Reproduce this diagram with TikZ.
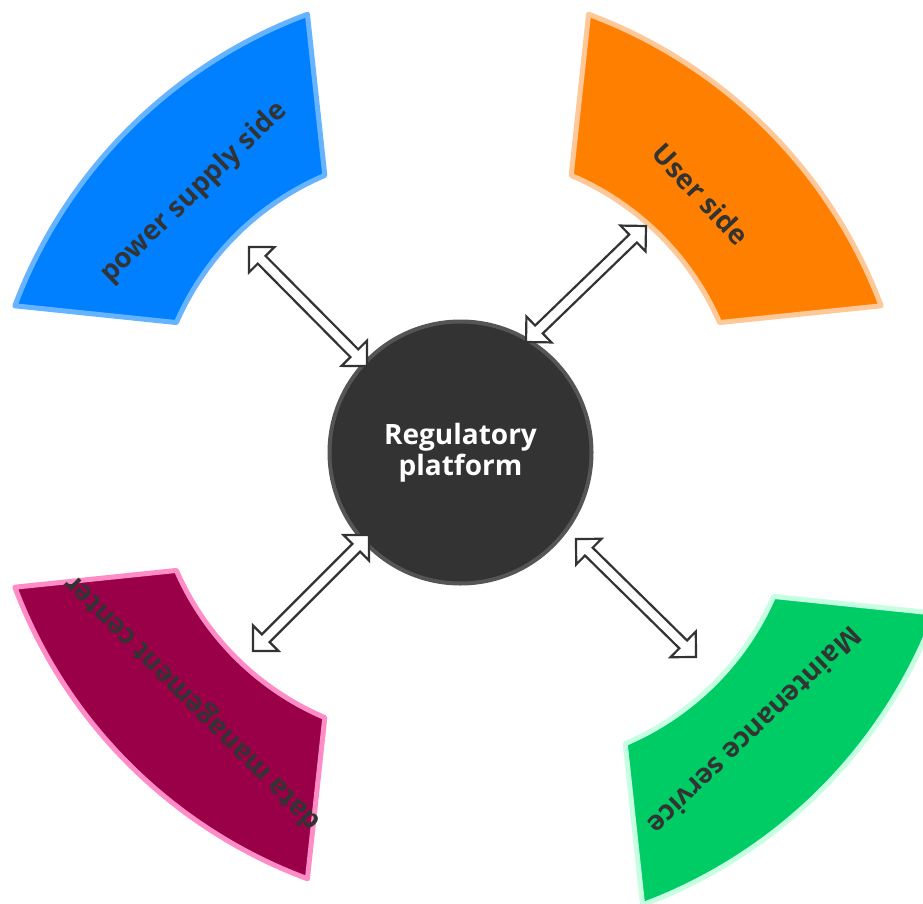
\documentclass[tikz,border=0pt]{standalone}
\usepackage{fontspec}
\setmainfont{Open Sans}
\usetikzlibrary{calc}
\definecolor{bluefill}{HTML}{0080FF}
\definecolor{blueedge}{HTML}{66B3FF}
\definecolor{orangefill}{HTML}{FF8000}
\definecolor{orangeedge}{HTML}{FFC899}
\definecolor{magfill}{HTML}{990047}
\definecolor{magedge}{HTML}{FF8CC6}
\definecolor{greenfill}{HTML}{00CC66}
\definecolor{greenedge}{HTML}{C6FFE2}
\definecolor{darktext}{HTML}{333333}
\definecolor{circfill}{HTML}{333333}
\definecolor{circedge}{HTML}{555555}
\newcommand\twoway[2]{%
  \filldraw[dblarrow] (#1) -- ($(#1)!25.46pt!45:(#2)$) -- ($(#1)!18.82pt!17:(#2)$)
    -- ($(#2)!18.82pt!-17:(#1)$) -- ($(#2)!25.46pt!-45:(#1)$) -- (#2)
    -- ($(#2)!25.46pt!45:(#1)$) -- ($(#2)!18.82pt!17:(#1)$)
    -- ($(#1)!18.82pt!-17:(#2)$) -- ($(#1)!25.46pt!-45:(#2)$) -- cycle;}
\begin{document}
\begin{tikzpicture}[x=1pt,y=-1pt,
  sector/.style={line width=5pt, line join=round},
  seclabel/.style={font=\fontsize{27.5}{31}\selectfont\bfseries, text=darktext, inner sep=0pt},
  hub/.style={circle, fill=circfill, draw=circedge, line width=4pt, minimum size=262pt, inner sep=0pt, text=white, align=center, font=\fontsize{28}{31}\selectfont\bfseries},
  dblarrow/.style={draw=darktext, fill=white, line width=2.2pt, line join=miter}
]
\useasboundingbox (0,0) rectangle (923,904);
\clip (0,0) rectangle (923,904);
\fill[white] (0,0) rectangle (923,904);

% sectors
\filldraw[sector, fill=bluefill, draw=blueedge]
  ($(481,481)+(-110.4:498)$) arc[start angle=-110.4, end angle=-159.4, radius=498]
  -- ($(435,435)+(-156.5:282)$) arc[start angle=-156.5, end angle=-113, radius=282] -- cycle;
\filldraw[sector, fill=orangefill, draw=orangeedge]
  ($(415,481)+(-69.6:498)$) arc[start angle=-69.6, end angle=-20.6, radius=498]
  -- ($(461,435)+(-23.5:282)$) arc[start angle=-23.5, end angle=-67, radius=282] -- cycle;
\filldraw[sector, fill=magfill, draw=magedge]
  ($(481,412)+(110.4:498)$) arc[start angle=110.4, end angle=159.4, radius=498]
  -- ($(435,458)+(156.5:282)$) arc[start angle=156.5, end angle=113, radius=282] -- cycle;
\filldraw[sector, fill=greenfill, draw=greenedge]
  ($(469,438)+(69.6:498)$) arc[start angle=69.6, end angle=20.6, radius=498]
  -- ($(515,484)+(23.5:282)$) arc[start angle=23.5, end angle=67, radius=282] -- cycle;

% labels
\node[seclabel, rotate=44] (psup) at (194,193) {power supply side};
\node[seclabel, rotate=-47] (user) at (701,194) {User side};
\node[seclabel, rotate=135] (dmc) at (193,702) {data management center};
\node[seclabel, rotate=-136] (maint) at (755,731) {Maintenance service};

% hub
\node[hub] (hub) at (460.5,452.5) {Regulatory\\platform};

% arrows
\coordinate (nwA) at (249,247); \coordinate (nwB) at (367,366);
\coordinate (neA) at (646,226); \coordinate (neB) at (526,342);
\coordinate (swA) at (369,535); \coordinate (swB) at (253,651);
\coordinate (seA) at (576,539); \coordinate (seB) at (696,657);
\twoway{nwA}{nwB}
\twoway{neA}{neB}
\twoway{swA}{swB}
\twoway{seA}{seB}
\end{tikzpicture}
\end{document}
